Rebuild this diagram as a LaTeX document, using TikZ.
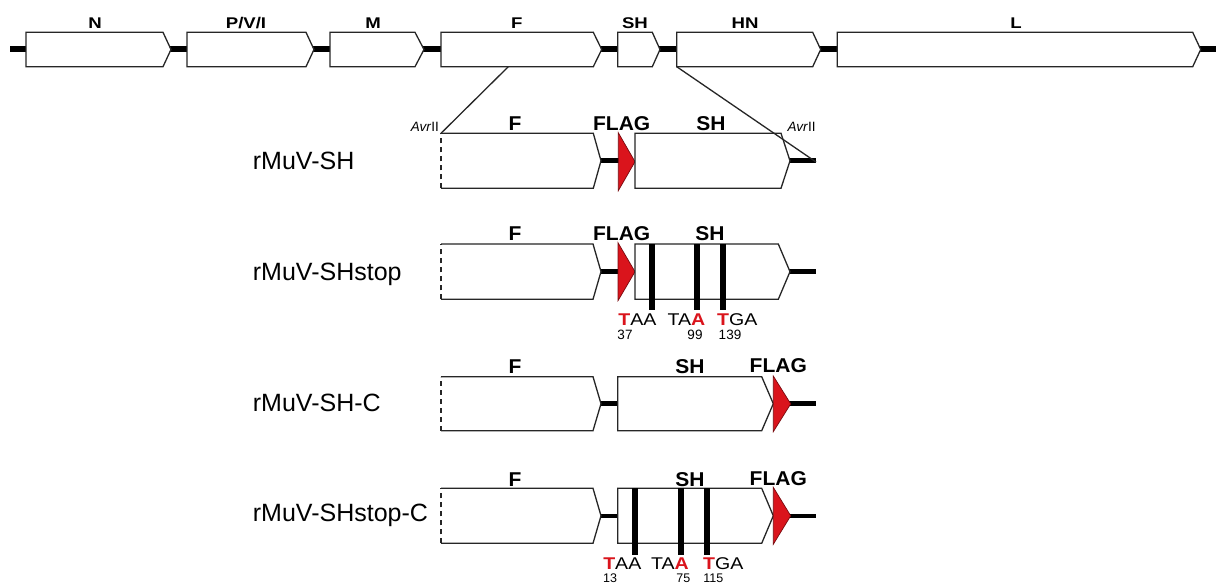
\documentclass[tikz,border=0pt]{standalone}
\usepackage{fontspec}
\setmainfont{Liberation Sans}
\definecolor{flagred}{RGB}{218,20,28}
\newcommand\genebox[5]{% x1, x2, xtip, ytop, ybot
  \draw[outl] (#1,#4) -- (#2,#4) -- (#3,{(#4+#5)/2}) -- (#2,#5) -- (#1,#5) -- cycle;}
\newcommand\geneboxd[5]{%
  \fill[white] (#1,#4) -- (#2,#4) -- (#3,{(#4+#5)/2}) -- (#2,#5) -- (#1,#5) -- cycle;
  \draw[outl, fill=none] (#1,#4) -- (#2,#4) -- (#3,{(#4+#5)/2}) -- (#2,#5) -- (#1,#5);
  \draw[outl, fill=none, line width=1.6pt, dash pattern=on 5pt off 4pt] (#1,#5) -- (#1,#4);}
\newcommand\flagtriangle[4]{% xleft, xtip, ytop, ybot
  \draw[flagtri] (#1,#3) -- (#2,{(#3+#4)/2}) -- (#1,#4) -- cycle;}
\newcommand\toplabel[1]{\scalebox{1.2}[1]{#1}}
\newcommand\rowlabel[1]{\scalebox{1.05}[1]{#1}}
\newcommand\codon[1]{\scalebox{1.15}[1]{#1}}
\newcommand\redT{\textcolor{flagred}{\textbf{T}}}
\newcommand\redA{\textcolor{flagred}{\textbf{A}}}
\tikzset{
  outl/.style={draw=black!85, line width=1.3pt, fill=white, line join=miter},
  bb/.style={line width=5.5pt, black},
  rb/.style={line width=4.5pt, black},
  stopbar/.style={line width=6pt, black},
  zoomline/.style={draw=black!85, line width=1.3pt},
  flagtri/.style={fill=flagred, draw=black!45!flagred, line width=0.7pt, line join=miter},
  toplab/.style={font=\fontsize{15.5}{18}\selectfont\bfseries, inner sep=0pt},
  rowlab/.style={font=\fontsize{20}{24}\selectfont\bfseries, inner sep=0pt},
  namelab/.style={font=\fontsize{25}{30}\selectfont, inner sep=0pt, anchor=west},
  avr/.style={font=\fontsize{13.5}{16}\selectfont, inner sep=0pt},
  codonlab/.style={font=\fontsize{17}{20}\selectfont, inner sep=0pt},
  numlab/.style={font=\fontsize{13.5}{16}\selectfont, inner sep=0pt},
}
\begin{document}
\begin{tikzpicture}[x=1pt, y=-1pt]
\useasboundingbox[fill=white] (0,0) rectangle (1216,584);

% ---------- genome (top row) ----------
\draw[bb] (10,49) -- (1216,49);
\genebox{26}{163}{171}{32.3}{66.7}
\genebox{187}{306}{314}{32.3}{66.7}
\genebox{330}{415}{424}{32.3}{66.7}
\genebox{441}{593.3}{601.7}{32.3}{66.7}
\genebox{617.7}{652.3}{660}{32.3}{66.7}
\genebox{676.7}{812.7}{820.7}{32.3}{66.7}
\genebox{837.3}{1192.7}{1200.7}{32.3}{66.7}
\node[toplab] (gN) at (95,23) {\toplabel{N}};
\node[toplab] (gP) at (246,23) {\toplabel{P/V/I}};
\node[toplab] (gM) at (373,23) {\toplabel{M}};
\node[toplab] (gF) at (516.7,23) {\toplabel{F}};
\node[toplab] (gSH) at (635,23) {\toplabel{SH}};
\node[toplab] (gHN) at (745,23) {\toplabel{HN}};
\node[toplab] (gL) at (1016,23) {\toplabel{L}};

% zoom lines
\coordinate (Fbot) at (508.3,66.7);
\coordinate (HNbot) at (676.7,66.7);
\coordinate (r1tl) at (441,133.3);
\coordinate (r1end) at (816,162);
\draw[zoomline] (Fbot) -- (r1tl);

% ---------- row 1: rMuV-SH ----------
\draw[rb] (601,160.7) -- (619,160.7);
\draw[rb] (789,160.7) -- (816,160.7);
\geneboxd{441}{593.3}{601}{133.3}{188.3}
\flagtriangle{618.3}{635}{132.7}{190.7}
\genebox{635}{781}{790}{133.3}{188.3}
\draw[zoomline] (HNbot) -- (r1end);
\node[rowlab] (r1F) at (515,124) {\rowlabel{F}};
\node[rowlab] (r1FLAG) at (621.7,124) {\rowlabel{FLAG}};
\node[rowlab] (r1SH) at (711,124) {\rowlabel{SH}};
\node[avr, anchor=east] (avrL) at (439,126.5) {\textit{Avr}II};
\node[avr] (avrR) at (801.7,126.5) {\textit{Avr}II};
\node[namelab] (n1) at (252.7,160.7) {rMuV-SH};

% ---------- row 2: rMuV-SHstop ----------
\draw[rb] (601,271.5) -- (619,271.5);
\draw[rb] (789,271.5) -- (816,271.5);
\geneboxd{441}{593}{601}{244}{299.3}
\flagtriangle{618}{635}{242.7}{300.7}
\genebox{635}{778.3}{790}{244}{299.3}
\coordinate (s2a) at (651.7,244); \coordinate (s2ae) at (651.7,310);
\coordinate (s2b) at (697.3,244); \coordinate (s2be) at (697.3,310);
\coordinate (s2c) at (723.3,244); \coordinate (s2ce) at (723.3,310);
\draw[stopbar] (s2a) -- (s2ae);
\draw[stopbar] (s2b) -- (s2be);
\draw[stopbar] (s2c) -- (s2ce);
\node[rowlab] (r2F) at (515,234) {\rowlabel{F}};
\node[rowlab] (r2FLAG) at (621.7,234) {\rowlabel{FLAG}};
\node[rowlab] (r2SH) at (710,234) {\rowlabel{SH}};
\node[codonlab] (c2a) at (637.4,320) {\codon{\redT AA}};
\node[codonlab] (c2b) at (686.5,320) {\codon{TA\redA}};
\node[codonlab] (c2c) at (737.3,320) {\codon{\redT GA}};
\node[numlab] (m2a) at (625,335) {37};
\node[numlab] (m2b) at (695,335) {99};
\node[numlab] (m2c) at (730,335) {139};
\node[namelab] (n2) at (252.7,274) {rMuV-SHstop};

% ---------- row 3: rMuV-SH-C ----------
\draw[rb] (601,403.5) -- (619,403.5);
\draw[rb] (789,403.5) -- (816,403.5);
\geneboxd{441}{593}{601}{376.7}{430.7}
\genebox{617.7}{761.7}{773.3}{376.7}{430.7}
\flagtriangle{773.3}{790.7}{376}{431.7}
\node[rowlab] (r3F) at (515,367) {\rowlabel{F}};
\node[rowlab] (r3SH) at (690,367) {\rowlabel{SH}};
\node[rowlab] (r3FLAG) at (778.3,366) {\rowlabel{FLAG}};
\node[namelab] (n3) at (252.7,402.7) {rMuV-SH-C};

% ---------- row 4: rMuV-SHstop-C ----------
\draw[rb] (601,516) -- (619,516);
\draw[rb] (789,516) -- (816,516);
\geneboxd{441}{593}{601}{488.3}{543.3}
\genebox{617.7}{761.7}{773.3}{488.3}{543.3}
\flagtriangle{773.3}{790.7}{487.3}{544.3}
\coordinate (s4a) at (635,488.3); \coordinate (s4ae) at (635,555);
\coordinate (s4b) at (680.7,488.3); \coordinate (s4be) at (680.7,555);
\coordinate (s4c) at (707.3,488.3); \coordinate (s4ce) at (707.3,555);
\draw[stopbar] (s4a) -- (s4ae);
\draw[stopbar] (s4b) -- (s4be);
\draw[stopbar] (s4c) -- (s4ce);
\node[rowlab] (r4F) at (515,479.3) {\rowlabel{F}};
\node[rowlab] (r4SH) at (690,479.3) {\rowlabel{SH}};
\node[rowlab] (r4FLAG) at (778.3,479) {\rowlabel{FLAG}};
\node[codonlab] (c4a) at (622.3,564) {\codon{\redT AA}};
\node[codonlab] (c4b) at (670,564) {\codon{TA\redA}};
\node[codonlab] (c4c) at (723.3,564) {\codon{\redT GA}};
\node[numlab, font=\fontsize{12.5}{14}\selectfont] (m4a) at (610,578.3) {13};
\node[numlab, font=\fontsize{12.5}{14}\selectfont] (m4b) at (683.3,578.3) {75};
\node[numlab, font=\fontsize{12.5}{14}\selectfont] (m4c) at (713.3,578.3) {115};
\node[namelab] (n4) at (252.7,515) {rMuV-SHstop-C};
\end{tikzpicture}
\end{document}
